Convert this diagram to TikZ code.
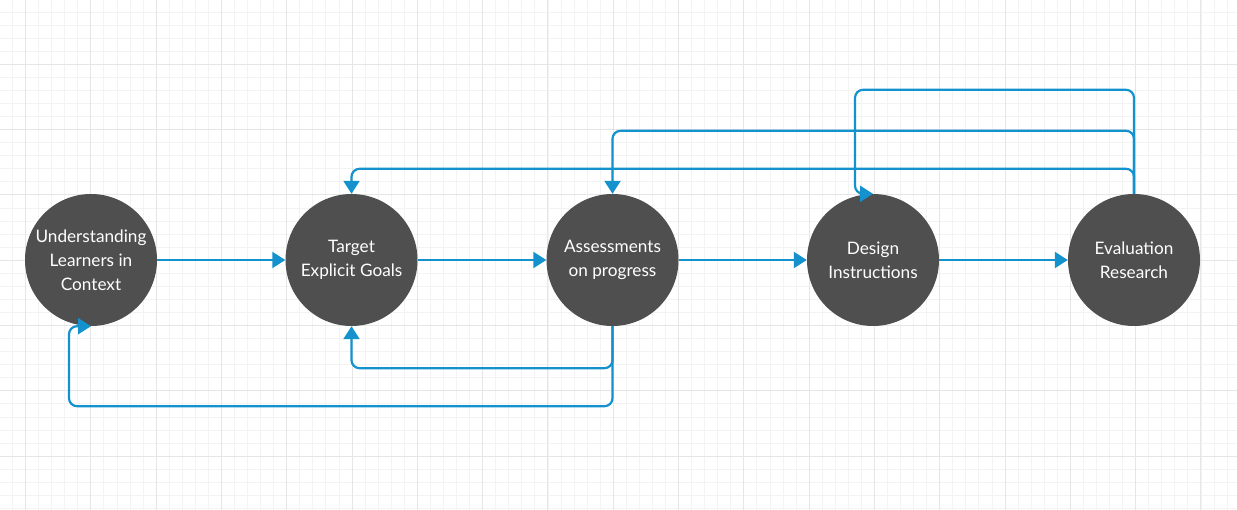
\documentclass[tikz,border=0pt]{standalone}
\usepackage{fontspec}
\setmainfont{Lato}
\usetikzlibrary{arrows.meta,calc}
\definecolor{stagegray}{HTML}{4F4F4F}
\definecolor{linkblue}{HTML}{1492CE}
\definecolor{minorline}{HTML}{F3F3F3}
\definecolor{majorline}{HTML}{E6E6E6}

\begin{document}
\begin{tikzpicture}[
    x=1pt, y=-1pt,
    stage/.style={circle, fill=stagegray, text=white, minimum size=132pt, inner sep=0pt, align=center, font=\fontsize{17.2}{24}\selectfont},
    flow/.style={-{Triangle[length=13pt,width=16pt]}, line width=2.2pt, draw=linkblue, rounded corners=8pt},
    minorgrid/.style={draw=minorline, line width=0.8pt},
    majorgrid/.style={draw=majorline, line width=1pt}
]

% Background and grid
\fill[white] (0,0) rectangle (1237,510);
\useasboundingbox (0,0) rectangle (1237,510);
\foreach \i in {-1,...,93} \draw[minorgrid] (25.5+13.06*\i,0) -- (25.5+13.06*\i,510);
\foreach \j in {0,...,39} \draw[minorgrid] (0,-1+13.06*\j) -- (1237,-1+13.06*\j);
\foreach \i in {0,...,18} \draw[majorgrid] (25.5+65.3*\i,0) -- (25.5+65.3*\i,510);
\foreach \j in {0,...,7} \draw[majorgrid] (0,-1+65.3*\j) -- (1237,-1+65.3*\j);

% Stages
\node[stage] (und) at (91,260) {Understanding\\Learners in\\Context};
\node[stage] (tgt) at (351.5,260) {Target\\Explicit Goals};
\node[stage] (asm) at (612.5,260) {Assessments\\on progress};
\node[stage] (dsn) at (873,260) {Design\\Instructions};
\node[stage] (evl) at (1134,260) {Evaluation\\Research};

% Forward flow
\draw[flow] (und.east) -- (tgt.west);
\draw[flow] (tgt.east) -- (asm.west);
\draw[flow] (asm.east) -- (dsn.west);
\draw[flow] (dsn.east) -- (evl.west);

% Feedback from evaluation
\draw[flow] (evl.north) |- ($(dsn.north)+(-18,-104)$) |- (dsn.north);
\draw[flow] (evl.north) |- ($(asm.north)+(0,-63)$) -- (asm.north);
\draw[flow] (evl.north) |- ($(tgt.north)+(0,-25)$) -- (tgt.north);

% Feedback from assessments
\draw[flow] (asm.south) |- ($(tgt.south)+(0,42)$) -- (tgt.south);
\draw[flow] (asm.south) |- ($(und.south)+(-22,80)$) |- (und.south);

\end{tikzpicture}
\end{document}
